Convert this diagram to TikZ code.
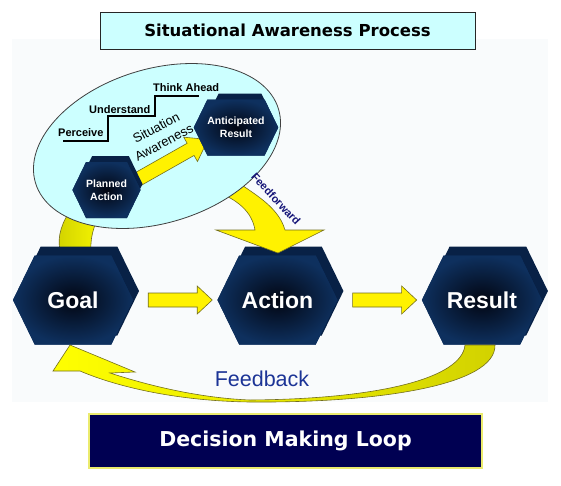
\documentclass[tikz,border=0pt]{standalone}
\usepackage{fontspec}
\setmainfont{Liberation Sans}
\newfontfamily\verdana{DejaVu Sans}
\usepackage{tikz}
\usetikzlibrary{arrows.meta,positioning,calc,shapes.geometric,shapes.symbols,backgrounds}

\definecolor{boxcyan}{RGB}{204,255,255}
\definecolor{hexnavy}{RGB}{14,48,94}
\definecolor{hexcore}{RGB}{2,6,18}
\definecolor{hexside}{RGB}{8,33,70}
\definecolor{loopnavy}{RGB}{0,0,82}
\definecolor{fbblue}{RGB}{28,52,150}
\definecolor{ffnavy}{RGB}{22,22,120}
\definecolor{panel}{RGB}{249,251,252}
\definecolor{arrowedge}{RGB}{115,110,30}

% block arrow: from, to, body half width, head half width, head length
\newcommand\blockarrow[5]{%
  \coordinate (ba-s) at (#1);
  \coordinate (ba-e) at (#2);
  \coordinate (ba-h) at ($(ba-e)!#5!(ba-s)$);
  \draw[yarrow] ($(ba-s)!#3!90:(ba-e)$) -- ($(ba-h)!#3!-90:(ba-s)$)
    -- ($(ba-h)!#4!-90:(ba-s)$) -- (ba-e) -- ($(ba-h)!#4!90:(ba-s)$)
    -- ($(ba-h)!#3!90:(ba-s)$) -- ($(ba-s)!#3!-90:(ba-e)$) -- cycle;
}

\begin{document}
\begin{tikzpicture}[x=1pt, y=-1pt,
  hexshape/.style={shape=signal, signal to=east and west, signal pointer angle=128, inner sep=0pt},
  hexback/.style={hexshape, fill=hexside},
  hexface/.style={hexshape, text=white, fill=hexnavy,
    postaction={shade, inner color=hexcore, outer color=hexnavy}},
  bighex/.style={hexface, minimum width=120pt, minimum height=89pt,
    font=\fontsize{23}{27}\selectfont\bfseries},
  smallhex/.style={hexface, minimum height=56pt, align=center,
    font=\fontsize{10.5}{13}\selectfont\bfseries},
  yarrow/.style={fill=yellow, draw=arrowedge, line width=0.6pt},
  band/.style={draw=arrowedge, line width=0.6pt},
  titlebox/.style={draw=black!85, line width=1pt, fill=boxcyan, minimum width=375pt,
    minimum height=37pt, font={\verdana\bfseries\fontsize{16.5}{20}\selectfont}},
  loopbox/.style={draw={rgb,255:red,235;green,235;blue,110}, line width=1.2pt, fill=loopnavy,
    text=white, minimum width=393pt, minimum height=54pt,
    font={\verdana\bfseries\fontsize{20.5}{24}\selectfont}},
  bubble/.style={ellipse, draw=black!75, line width=0.8pt, fill=boxcyan,
    minimum width=254pt, minimum height=154pt, rotate=17},
  stairline/.style={line width=1.2pt},
  stairtext/.style={anchor=base west, inner sep=0pt, font=\fontsize{11}{13}\selectfont\bfseries},
  satext/.style={align=center, rotate=28, inner sep=0pt, font=\fontsize{13}{16.5}\selectfont},
  fbtext/.style={text=fbblue, inner sep=0pt, font=\fontsize{21.5}{25}\selectfont},
  fftext/.style={text=ffnavy, inner sep=0pt, rotate=-47, font=\fontsize{11}{13}\selectfont\bfseries}
]
  \useasboundingbox (0,0) rectangle (561,485);

  % title
  \node[titlebox] (title) at (287.5,30.5) {Situational Awareness Process};

  % decision making loop
  \node[bighex] (goal) at (73,300) {Goal};
  \node[bighex, right=84pt of goal] (action) {Action};
  \node[bighex, right=84pt of action] (result) {Result};

  \begin{pgfonlayer}{background}
    \fill[panel] (12,39) rectangle (548,402);
    \draw[band, left color=yellow!65!olive, right color=yellow!95!olive]
      (60,250) .. controls (57,236) and (62,222) .. (72,208) -- (104,208)
      .. controls (96,220) and (90,234) .. (91,250) -- cycle;
    \node[hexback, minimum width=120pt, minimum height=89pt] (goal-back) at ($(goal)+(6,-9)$) {};
    \node[hexback, minimum width=120pt, minimum height=89pt] (action-back) at ($(action)+(6,-9)$) {};
    \node[hexback, minimum width=120pt, minimum height=89pt] (result-back) at ($(result)+(6,-9)$) {};
  \end{pgfonlayer}

  \blockarrow{$(goal.east)+(15,0)$}{$(action.west)+(-5,0)$}{7pt}{14pt}{15pt}
  \blockarrow{$(action.east)+(15,0)$}{$(result.west)+(-5,0)$}{7pt}{14pt}{15pt}

  % feedback ribbon
  \draw[band, left color=yellow, middle color=yellow!90!olive, right color=yellow!65!olive]
    (70,345) -- (135,372) -- (110,373) .. controls (150,386) and (200,398) .. (250,400)
    .. controls (380,399) and (462,378) .. (465,345) -- (495,345)
    .. controls (496,385) and (380,403) .. (250,402)
    .. controls (180,401) and (120,388) .. (80,371) -- (53,371) -- cycle;
  \node[fbtext] (fb) at (262,379) {Feedback};

  % feedforward
  \draw[band, fill=yellow] (216,230) -- (255,230) .. controls (252,212) and (238,199) .. (212,190)
    -- (232,178) .. controls (250,192) and (278,205) .. (285,230) -- (324,230) -- (278,253) -- cycle;

  % situation awareness
  \node[bubble] (sa) at (157,146) {};

  \draw[stairline] (63,141) -- (108,141) |- (155,116) |- (199,96);
  \node[stairtext] (perceive) at (58,136) {Perceive};
  \node[stairtext] (understand) at (89,113.5) {Understand};
  \node[stairtext] (thinkahead) at (153,91) {Think Ahead};
  \node[satext] (satxt) at (160,135) {Situation\\Awareness};

  \coordinate (plan-c) at (106.5,190);
  \coordinate (antic-c) at (236,127.5);
  \blockarrow{$(plan-c)+(0,7)$}{$(antic-c)+(-28,12)$}{7pt}{14pt}{20pt}
  \node[hexback, minimum width=64pt, minimum height=56pt] (plan-back) at ($(plan-c)+(4,-6)$) {};
  \node[hexback, minimum width=70pt, minimum height=56pt] (antic-back) at ($(antic-c)+(4,-6)$) {};
  \node[smallhex, minimum width=64pt] (plan) at (plan-c) {Planned\\Action};
  \node[smallhex, minimum width=70pt] (antic) at (antic-c) {Anticipated\\Result};

  \node[fftext] (ff) at (276,199) {Feedforward};

  \node[loopbox] (loop) at (285.5,441) {Decision Making Loop};
\end{tikzpicture}
\end{document}
